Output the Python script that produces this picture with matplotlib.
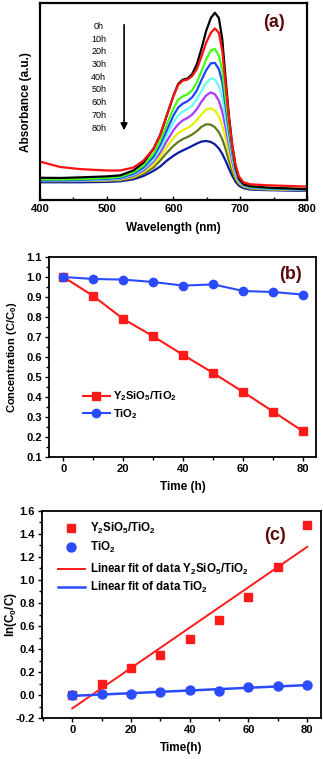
import numpy as np
import matplotlib
matplotlib.use('Agg')
import matplotlib.pyplot as plt
from matplotlib.ticker import MultipleLocator, NullLocator, FormatStrFormatter

plt.rcParams['font.family'] = ['Liberation Sans', 'DejaVu Sans']
plt.rcParams['font.weight'] = 'bold'
plt.rcParams['axes.labelweight'] = 'bold'
plt.rcParams['mathtext.default'] = 'bf'
plt.rcParams['mathtext.fontset'] = 'custom'
plt.rcParams['mathtext.bf'] = 'Liberation Sans:bold'

########################### data (a): UV-vis spectra
wavelength = [400, 430, 460, 500, 520, 540, 555, 570, 580, 590, 600, 607, 614, 621, 628, 635,
              642, 649, 656, 662, 668, 673, 678, 683, 688, 693, 698, 705, 715, 740, 800]
spec_0h  = [0.113, 0.112, 0.115, 0.12, 0.125, 0.15, 0.19, 0.26, 0.33, 0.43, 0.53, 0.59, 0.612, 0.617, 0.64, 0.69,
            0.77, 0.86, 0.925, 0.952, 0.925, 0.82, 0.62, 0.43, 0.28, 0.17, 0.11, 0.08, 0.07, 0.063, 0.055]
spec_10h = [0.195, 0.168, 0.157, 0.15, 0.15, 0.165, 0.2, 0.26, 0.33, 0.43, 0.53, 0.585, 0.607, 0.612, 0.63, 0.665,
            0.73, 0.8, 0.85, 0.872, 0.85, 0.76, 0.59, 0.42, 0.28, 0.18, 0.12, 0.09, 0.08, 0.075, 0.068]
spec_20h = [0.105, 0.104, 0.106, 0.112, 0.118, 0.14, 0.175, 0.235, 0.3, 0.385, 0.465, 0.51, 0.527, 0.537, 0.558, 0.597,
            0.655, 0.715, 0.76, 0.768, 0.735, 0.66, 0.52, 0.38, 0.26, 0.165, 0.11, 0.08, 0.068, 0.062, 0.055]
spec_30h = [0.10, 0.10, 0.102, 0.108, 0.113, 0.133, 0.165, 0.22, 0.28, 0.355, 0.43, 0.47, 0.49, 0.502, 0.522, 0.557,
            0.61, 0.66, 0.695, 0.697, 0.665, 0.6, 0.48, 0.35, 0.24, 0.155, 0.105, 0.078, 0.066, 0.06, 0.053]
spec_40h = [0.10, 0.10, 0.10, 0.105, 0.11, 0.128, 0.158, 0.205, 0.26, 0.33, 0.395, 0.43, 0.45, 0.462, 0.48, 0.512,
            0.555, 0.595, 0.618, 0.613, 0.58, 0.52, 0.42, 0.31, 0.215, 0.14, 0.1, 0.075, 0.064, 0.058, 0.052]
spec_50h = [0.098, 0.098, 0.099, 0.103, 0.107, 0.122, 0.15, 0.195, 0.24, 0.3, 0.355, 0.385, 0.405, 0.417, 0.434, 0.462,
            0.5, 0.532, 0.547, 0.538, 0.505, 0.45, 0.37, 0.28, 0.195, 0.13, 0.095, 0.072, 0.062, 0.057, 0.051]
spec_60h = [0.097, 0.097, 0.098, 0.1, 0.104, 0.117, 0.142, 0.18, 0.22, 0.27, 0.315, 0.34, 0.355, 0.366, 0.382, 0.406,
            0.435, 0.46, 0.466, 0.455, 0.425, 0.38, 0.315, 0.24, 0.17, 0.118, 0.088, 0.07, 0.06, 0.055, 0.05]
spec_70h = [0.095, 0.095, 0.096, 0.098, 0.1, 0.112, 0.134, 0.165, 0.2, 0.24, 0.275, 0.295, 0.31, 0.32, 0.333, 0.35,
            0.372, 0.385, 0.383, 0.37, 0.345, 0.31, 0.26, 0.2, 0.148, 0.106, 0.082, 0.066, 0.058, 0.053, 0.049]
spec_80h = [0.09, 0.09, 0.09, 0.092, 0.095, 0.105, 0.122, 0.148, 0.17, 0.2, 0.225, 0.24, 0.252, 0.263, 0.275, 0.287,
            0.297, 0.3, 0.295, 0.283, 0.262, 0.235, 0.2, 0.16, 0.123, 0.093, 0.073, 0.06, 0.053, 0.05, 0.046]
spectra = [spec_80h, spec_70h, spec_60h, spec_50h, spec_40h, spec_30h, spec_20h, spec_0h, spec_10h]
spec_colors = ['#0c1aa0', '#5f7a1c', '#e8f000', '#a83cff', '#66fff0', '#1c46ff', '#44ff10', '#000000', '#ff1010']
spec_labels = ['0h', '10h', '20h', '30h', '40h', '50h', '60h', '70h', '80h']

########################### data (b),(c)
time_h = [0, 10, 20, 30, 40, 50, 60, 70, 80]
conc_ysio = [1.0, 0.905, 0.79, 0.703, 0.61, 0.52, 0.425, 0.327, 0.228]
conc_tio2 = [1.0, 0.99, 0.987, 0.975, 0.957, 0.963, 0.93, 0.925, 0.912]
ln_ysio = [0.0, 0.10, 0.235, 0.35, 0.49, 0.65, 0.855, 1.115, 1.48]
ln_tio2 = [0.0, 0.01, 0.013, 0.025, 0.044, 0.038, 0.072, 0.078, 0.092]

lab_ysio = r'Y$_2$SiO$_5$/TiO$_2$'
lab_tio2 = r'TiO$_2$'
panel_color = '#5a0a0a'

fig = plt.figure(figsize=(3.23, 7.59), dpi=100)

########################### (a)
ax1 = fig.add_axes([0.1238, 0.7365, 0.8266, 0.2592])
for s, c in zip(spectra, spec_colors):
    ax1.plot(wavelength, s, color=c, lw=1.6, solid_joinstyle='round')
ax1.set_xlim(400, 800)
ax1.set_ylim(0, 1.0)
ax1.xaxis.set_major_locator(MultipleLocator(100))
ax1.xaxis.set_minor_locator(MultipleLocator(50))
ax1.yaxis.set_major_locator(NullLocator())
ax1.tick_params(axis='x', direction='in', length=3, width=1, labelsize=8, pad=3)
ax1.tick_params(axis='x', which='minor', direction='in', length=2, width=1)
for sp in ax1.spines.values():
    sp.set_linewidth(1.6)
ax1.set_xlabel('Wavelength (nm)', fontsize=8.5, labelpad=6)
ax1.set_ylabel('Absorbance (a.u.)', fontsize=8.5, labelpad=6)
for i, lab in enumerate(spec_labels):
    ax1.text(0.22, 0.883 - i * 0.0647, lab, transform=ax1.transAxes, fontsize=6.5,
             fontweight='normal', ha='center', va='center')
ax1.annotate('', xy=(0.315, 0.34), xytext=(0.315, 0.905), xycoords='axes fraction',
             arrowprops=dict(arrowstyle='-|>', color='black', lw=1.2, mutation_scale=10))
ax1.text(0.875, 0.90, '(a)', transform=ax1.transAxes, fontsize=13, color=panel_color,
         ha='center', va='center')

########################### (b)
ax2 = fig.add_axes([0.1517, 0.3979, 0.8266, 0.2635])
ax2.plot(time_h, conc_ysio, color='#ff1a1a', lw=1.5, marker='s', ms=5.5, label=lab_ysio)
ax2.plot(time_h, conc_tio2, color='#2a4bff', lw=1.5, marker='o', ms=6, label=lab_tio2)
ax2.set_xlim(-4.8, 84.3)
ax2.set_ylim(0.1, 1.1)
ax2.xaxis.set_major_locator(MultipleLocator(20))
ax2.xaxis.set_minor_locator(MultipleLocator(10))
ax2.yaxis.set_major_locator(MultipleLocator(0.1))
ax2.yaxis.set_minor_locator(MultipleLocator(0.05))
ax2.yaxis.set_major_formatter(FormatStrFormatter('%.1f'))
ax2.tick_params(direction='out', length=3, width=1, labelsize=8, pad=2)
ax2.tick_params(which='minor', direction='out', length=2, width=1)
for sp in ax2.spines.values():
    sp.set_linewidth(1.3)
ax2.set_xlabel('Time (h)', fontsize=8.5, labelpad=5)
ax2.set_ylabel(r'Concentration (C/C$_0$)', fontsize=8)
ax2.yaxis.set_label_coords(-0.112, 0.5)
ax2.legend(loc='lower left', bbox_to_anchor=(0.09, 0.13), frameon=False, fontsize=8,
           handlelength=2.4, handletextpad=0.3, labelspacing=0.35)
ax2.text(0.905, 0.91, '(b)', transform=ax2.transAxes, fontsize=13, color=panel_color,
         ha='center', va='center')

########################### (c)
ax3 = fig.add_axes([0.129, 0.0536, 0.8647, 0.2735])
fit_r = np.polyfit(time_h, ln_ysio, 1)
fit_b = np.polyfit(time_h, ln_tio2, 1)
xs = np.array([time_h[0], time_h[-1]])
h1, = ax3.plot(time_h, ln_ysio, ls='none', marker='s', ms=6, color='#ff1a1a')
h2, = ax3.plot(time_h, ln_tio2, ls='none', marker='o', ms=6.5, color='#2a4bff')
h3, = ax3.plot(xs, np.polyval(fit_r, xs), color='#ff1a1a', lw=1.4)
h4, = ax3.plot(xs, np.polyval(fit_b, xs), color='#2a4bff', lw=1.8)
ax3.set_xlim(-10.4, 84.7)
ax3.set_ylim(-0.2, 1.6)
ax3.xaxis.set_major_locator(MultipleLocator(20))
ax3.xaxis.set_minor_locator(MultipleLocator(10))
ax3.yaxis.set_major_locator(MultipleLocator(0.2))
ax3.yaxis.set_minor_locator(MultipleLocator(0.1))
ax3.yaxis.set_major_formatter(FormatStrFormatter('%.1f'))
ax3.tick_params(direction='out', length=3, width=1, labelsize=8, pad=2)
ax3.tick_params(which='minor', direction='out', length=2, width=1)
for sp in ax3.spines.values():
    sp.set_linewidth(1.3)
ax3.set_xlabel('Time(h)', fontsize=8.5, labelpad=5)
ax3.set_ylabel(r'ln(C$_0$/C)', fontsize=8.5)
ax3.yaxis.set_label_coords(-0.082, 0.5)
leg1 = ax3.legend([h1, h2], [lab_ysio, lab_tio2], loc='upper left', bbox_to_anchor=(0.02, 1.0),
                  frameon=False, fontsize=8.3, handlelength=2.4, handletextpad=0.4,
                  labelspacing=0.3)
ax3.add_artist(leg1)
ax3.legend([h3, h4], ['Linear fit of data ' + lab_ysio, 'Linear fit of data ' + lab_tio2],
           loc='upper left', bbox_to_anchor=(0.02, 0.805), frameon=False, fontsize=8.3,
           handlelength=2.4, handletextpad=0.4, labelspacing=0.3)
ax3.text(0.835, 0.88, '(c)', transform=ax3.transAxes, fontsize=13, color=panel_color,
         ha='center', va='center')

plt.savefig('out.png', dpi=100)
plt.close()
